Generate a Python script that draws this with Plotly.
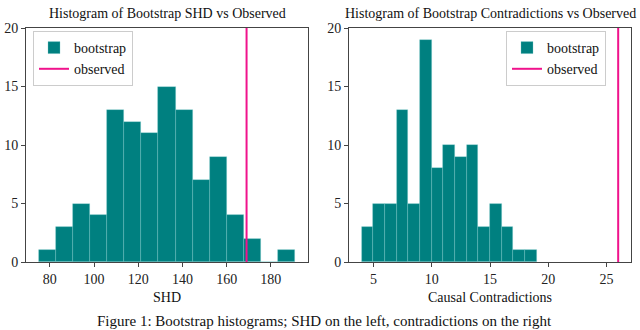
import plotly.graph_objects as go

# Data
shd_counts = [1, 3, 5, 4, 13, 12, 11, 15, 13, 7, 9, 4, 2, 0, 1]
shd_start = 75.0
shd_end = 191.0
shd_observed = 169

contra_counts = [3, 5, 5, 13, 5, 19, 8, 10, 9, 10, 3, 5, 3, 1, 1]
contra_start = 4.0
contra_end = 19.0
contra_observed = 26

y_ticks = [0, 5, 10, 15, 20]

TEAL = "#008080"
PINK = "#F0138C"
FONT = "Liberation Serif"
AXCOL = "#444444"


def bin_edges(start, end, n):
    size = (end - start) / n
    return [start + i * size for i in range(n)], size


fig = go.Figure()

# SHD histogram (left)
lefts, size = bin_edges(shd_start, shd_end, len(shd_counts))
fig.add_trace(go.Bar(
    x=lefts, y=shd_counts, width=size, offset=0,
    marker=dict(color=TEAL, line=dict(color="rgba(120,200,200,0.45)", width=0.7)),
    name="bootstrap", xaxis="x", yaxis="y", legend="legend",
))
fig.add_trace(go.Scatter(
    x=[shd_observed, shd_observed], y=[0, 20], mode="lines",
    line=dict(color=PINK, width=2), name="observed",
    xaxis="x", yaxis="y", legend="legend",
))

# Contradictions histogram (right)
lefts2, size2 = bin_edges(contra_start, contra_end, len(contra_counts))
fig.add_trace(go.Bar(
    x=lefts2, y=contra_counts, width=size2, offset=0,
    marker=dict(color=TEAL, line=dict(color="rgba(120,200,200,0.45)", width=0.7)),
    name="bootstrap", xaxis="x2", yaxis="y2", legend="legend2",
))
fig.add_trace(go.Scatter(
    x=[contra_observed, contra_observed], y=[0, 20], mode="lines",
    line=dict(color=PINK, width=2), name="observed",
    xaxis="x2", yaxis="y2", legend="legend2",
))

W, H = 640, 330


def px(x):
    return x / W


def py(y):
    return 1 - y / H


axis_common = dict(
    showline=True, linecolor=AXCOL, linewidth=1, mirror=True,
    showgrid=False, zeroline=False, ticks="outside", ticklen=4,
    tickcolor=AXCOL, automargin=False,
    tickfont=dict(family=FONT, size=14, color="#222"),
)

shd_pad = (shd_end - shd_start) * 0.05
contra_pad = (contra_observed - contra_start) * 0.05

legend_common = dict(
    bgcolor="white", bordercolor="#cccccc", borderwidth=1,
    font=dict(family=FONT, size=14, color="#111"),
    xanchor="left", yanchor="top", tracegroupgap=0,
    itemwidth=30,
)


def label(text, x, y, size=14):
    return dict(text=text, x=px(x), y=py(y), xref="paper", yref="paper",
                xanchor="center", yanchor="middle", showarrow=False,
                font=dict(family=FONT, size=size, color="#111"))


fig.update_layout(
    width=W, height=H,
    margin=dict(l=0, r=0, t=0, b=0, autoexpand=False),
    paper_bgcolor="white", plot_bgcolor="white",
    bargap=0,
    xaxis=dict(axis_common, domain=[px(26), px(308)],
               range=[shd_start - shd_pad, shd_end + shd_pad],
               tickvals=[80, 100, 120, 140, 160, 180], anchor="y"),
    yaxis=dict(axis_common, domain=[py(262), py(28)], range=[0, 20],
               tickvals=y_ticks, anchor="x"),
    xaxis2=dict(axis_common, domain=[px(349), px(631)],
                range=[contra_start - contra_pad, contra_observed + contra_pad],
                tickvals=[5, 10, 15, 20, 25], anchor="y2"),
    yaxis2=dict(axis_common, domain=[py(262), py(28)], range=[0, 20],
                tickvals=y_ticks, anchor="x2"),
    legend=dict(legend_common, x=px(33), y=py(31)),
    legend2=dict(legend_common, x=px(506), y=py(31)),
    annotations=[
        label("Histogram of Bootstrap SHD vs Observed", 167, 13),
        label("Histogram of Bootstrap Contradictions vs Observed", 490, 13),
        label("SHD", 167, 297),
        label("Causal Contradictions", 490, 297),
        label("Figure 1: Bootstrap histograms; SHD on the left, contradictions on the right",
              324, 321, size=15),
    ],
)

fig.write_html("out.html", config={"displayModeBar": False},
               post_script="document.body.style.margin='0';")
